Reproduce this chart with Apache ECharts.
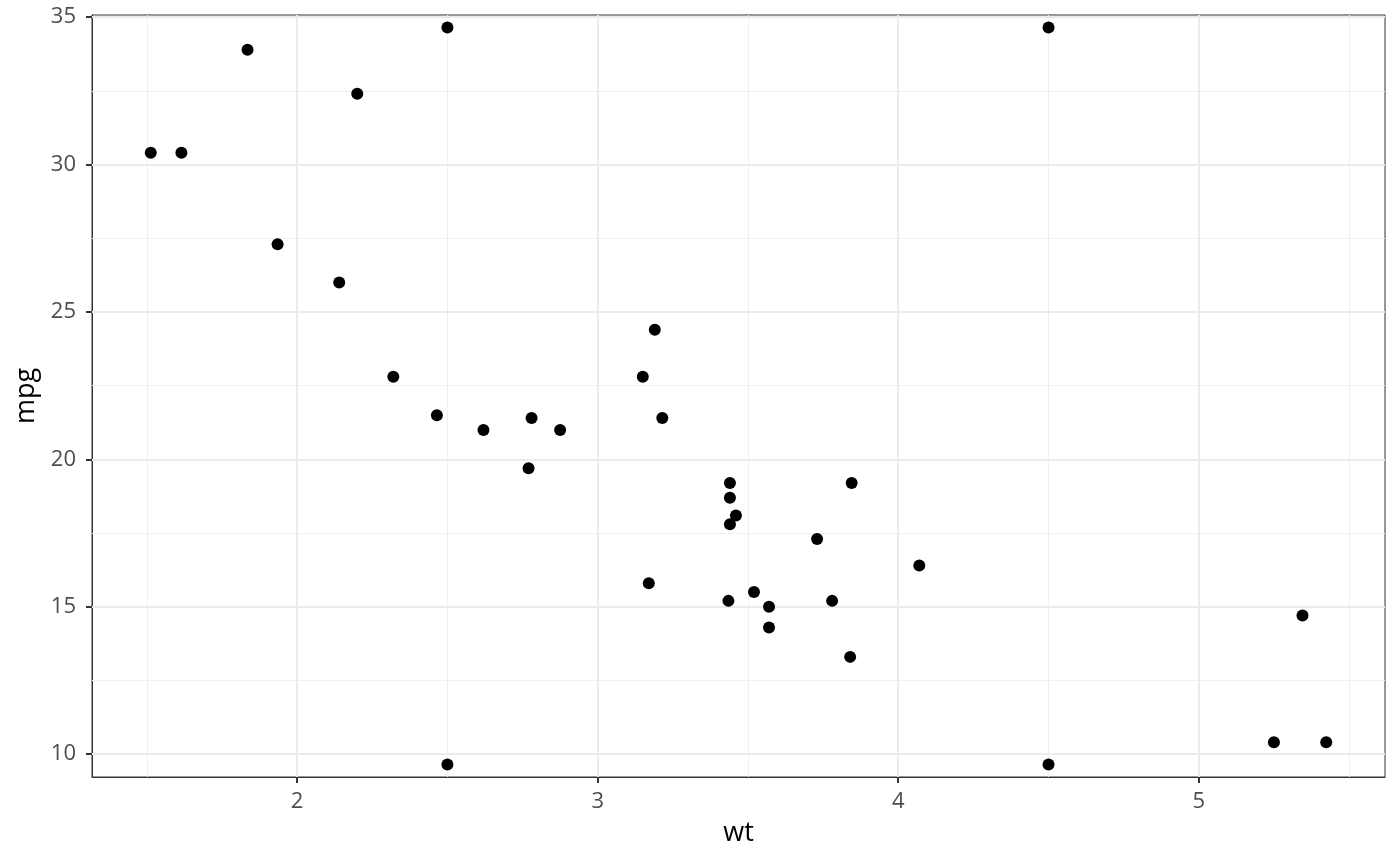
<!DOCTYPE html>
<html>
<head>
<meta charset="utf-8">
<script src="https://cdn.jsdelivr.net/npm/echarts@6/dist/echarts.min.js"></script>
<style>
  html, body { margin: 0; padding: 0; background: #fff; }
  #chart { width: 1400px; height: 866px; }
</style>
</head>
<body>
<div id="chart"></div>
<script>
// mtcars weight (1000 lbs) vs miles per gallon, plus four marker points
var wt = [2.620, 2.875, 2.320, 3.215, 3.440, 3.460, 3.570, 3.190, 3.150, 3.440, 3.440,
  4.070, 3.730, 3.780, 5.250, 5.424, 5.345, 2.200, 1.615, 1.835, 2.465, 3.520,
  3.435, 3.840, 3.845, 1.935, 2.140, 1.513, 3.170, 2.770, 3.570, 2.780,
  2.5, 4.5, 2.5, 4.5];
var mpg = [21.0, 21.0, 22.8, 21.4, 18.7, 18.1, 14.3, 24.4, 22.8, 19.2, 17.8,
  16.4, 17.3, 15.2, 10.4, 10.4, 14.7, 32.4, 30.4, 33.9, 21.5, 15.5,
  15.2, 13.3, 19.2, 27.3, 26.0, 30.4, 15.8, 19.7, 15.0, 21.4,
  34.65, 34.65, 9.65, 9.65];

var xMajor = [2, 3, 4, 5];
var xMinor = [1.5, 2.5, 3.5, 4.5, 5.5];
var yMajor = [10, 15, 20, 25, 30, 35];
var yMinor = [12.5, 17.5, 22.5, 27.5, 32.5];

var xLimits = [1.3175, 5.6195];
var yLimits = [9.225, 35.075];

var chart = echarts.init(document.getElementById('chart'));

var points = wt.map(function(w, i){ return [w, mpg[i]]; });

function gridLines(vals, key, width, color){
  return vals.map(function(v){
    var d = {};
    d[key] = v;
    d.lineStyle = { color: color, width: width, type: 'solid' };
    return d;
  });
}

var lines = []
  .concat(gridLines(xMinor, 'xAxis', 1, '#f0f0f0'))
  .concat(gridLines(yMinor, 'yAxis', 1, '#f0f0f0'))
  .concat(gridLines(xMajor, 'xAxis', 2, '#ebebeb'))
  .concat(gridLines(yMajor, 'yAxis', 2, '#ebebeb'));

var axisLine = { show: true, onZero: false, lineStyle: { color: '#333333', width: 1 } };

chart.setOption({
  animation: false,
  grid: { left: 92, right: 15, top: 15, bottom: 89, show: true, borderColor: '#333333', borderWidth: 1 },
  xAxis: {
    type: 'value',
    min: xLimits[0], max: xLimits[1],
    name: 'wt', nameLocation: 'middle', nameGap: 43,
    nameTextStyle: { color: '#000', fontSize: 27, fontFamily: 'Open Sans' },
    axisLine: axisLine,
    axisTick: { show: true, length: 6, customValues: xMajor, lineStyle: { color: '#333333', width: 2 } },
    axisLabel: { customValues: xMajor, margin: 14, color: '#4d4d4d', fontSize: 22, fontFamily: 'Open Sans' },
    splitLine: { show: false }
  },
  yAxis: {
    type: 'value',
    min: yLimits[0], max: yLimits[1],
    name: 'mpg', nameLocation: 'middle', nameGap: 50,
    nameTextStyle: { color: '#000', fontSize: 27, fontFamily: 'Open Sans' },
    axisLine: axisLine,
    axisTick: { show: true, length: 6, customValues: yMajor, lineStyle: { color: '#333333', width: 2 } },
    axisLabel: { customValues: yMajor, margin: 16, color: '#4d4d4d', fontSize: 22, fontFamily: 'Open Sans' },
    splitLine: { show: false }
  },
  series: [
    {
      type: 'line',
      data: [],
      silent: true,
      z: 1,
      markLine: {
        silent: true,
        symbol: 'none',
        label: { show: false },
        animation: false,
        data: lines
      }
    },
    {
      type: 'scatter',
      z: 5,
      data: points,
      symbolSize: 12,
      itemStyle: { color: '#000000', opacity: 1 },
      silent: true
    }
  ]
});
</script>
</body>
</html>
